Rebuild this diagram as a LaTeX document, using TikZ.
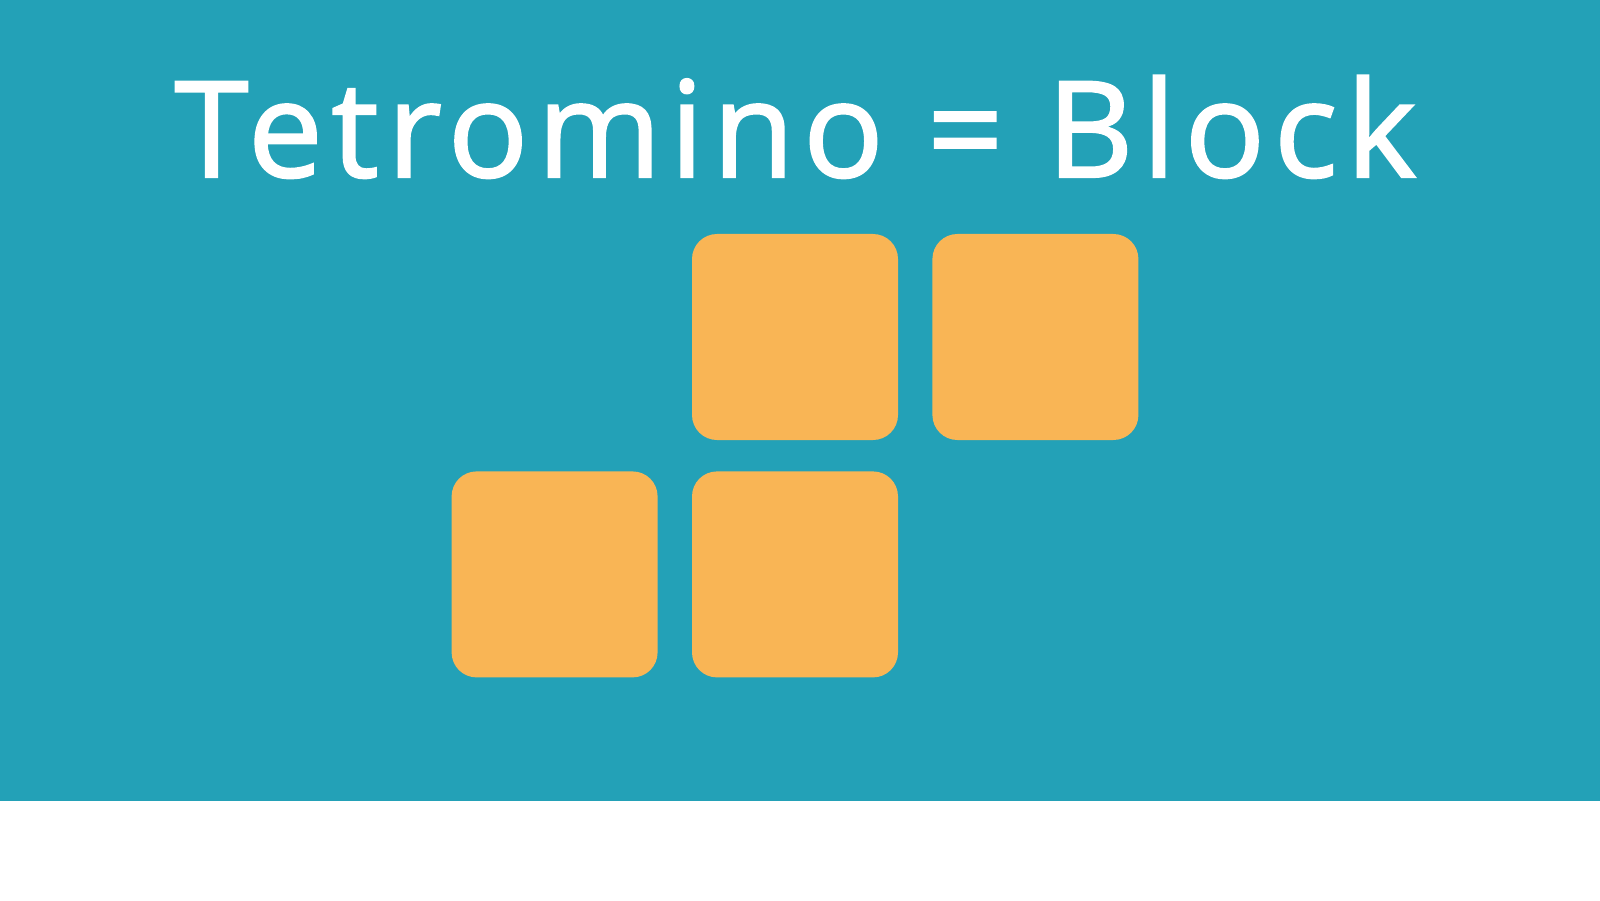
\documentclass[tikz,border=0pt]{standalone}
\usepackage{fontspec}
\setmainfont{Open Sans}
\usetikzlibrary{positioning}
\definecolor{bgteal}{HTML}{23A1B7}
\definecolor{blockorange}{HTML}{F9B555}
\begin{document}
\begin{tikzpicture}[
        block/.style={fill=blockorange, minimum width=2.06cm, minimum height=2.06cm, rounded corners=0.25cm, inner sep=0pt},
        title/.style={text=white, font=\fontsize{38}{40}\selectfont\addfontfeatures{FakeBold=1.6, LetterSpace=6.5}, anchor=base, inner sep=0pt}
    ]
        \useasboundingbox (0,0) rectangle (16,9);
        \fill[white] (0,0) rectangle (16,9);
        \fill[bgteal] (0,0.99) rectangle (16,9);

        \node[title] (head) at (7.955,7.23) {Tetromino = Block};

        \node[block] (topl) at (7.95,5.63) {};
        \node[block, right=0.33cm of topl] (topr) {};
        \node[block, below=0.30cm of topl] (botr) {};
        \node[block, left=0.33cm of botr] (botl) {};
    \end{tikzpicture}
\end{document}
